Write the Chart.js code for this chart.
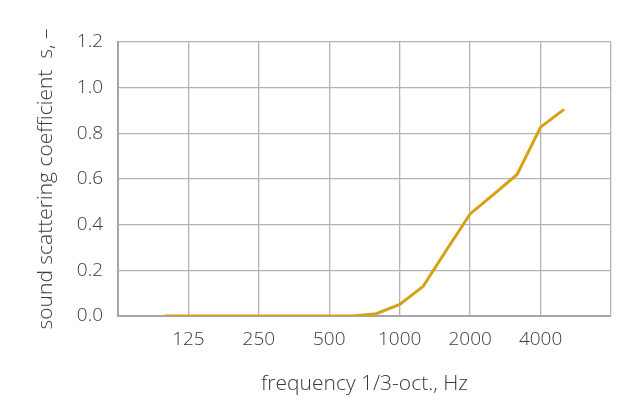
<!DOCTYPE html>
<html>
<head>
<meta charset="utf-8">
<script src="https://cdn.jsdelivr.net/npm/chart.js@4/dist/chart.umd.min.js"></script>
<style>
  html, body { margin: 0; padding: 0; background: #ffffff; }
  #wrap { width: 642px; height: 401px; }
</style>
</head>
<body>
<div id="wrap"><canvas id="c" width="642" height="401"></canvas></div>
<script>
// 1/3-octave band centre frequencies (Hz) spanning the axis
const bands = ['63','80','100','125','160','200','250','315','400','500','630','800','1000','1250','1600','2000','2500','3150','4000','5000','6300','8000'];
// bands that carry a tick label
const shownLabels = ['125','250','500','1000','2000','4000'];
// bands that carry a vertical grid line
const gridBands = ['63','125','250','500','1000','2000','4000','8000'];
// sound scattering coefficient s per band (null = not measured)
const scattering = [null, null, 0.0, 0.0, 0.0, 0.0, 0.0, 0.0, 0.0, 0.0, 0.0, 0.01, 0.051, 0.13, 0.29, 0.447, 0.533, 0.62, 0.827, 0.905, null, null];
const yTicks = [0, 0.2, 0.4, 0.6, 0.8, 1.0, 1.2];

const FONT = "'Open Sans', 'Lato', sans-serif";
const gridColor = '#b3b3b3';
const axisColor = '#a6a6a6';

new Chart(document.getElementById('c'), {
  type: 'line',
  data: {
    labels: bands,
    datasets: [{
      data: scattering,
      borderColor: '#d5a216',
      borderWidth: 3,
      pointRadius: 0,
      tension: 0,
      spanGaps: false
    }]
  },
  options: {
    responsive: false,
    animation: false,
    devicePixelRatio: 1,
    layout: { padding: { top: 42, right: 31, left: 0, bottom: 0 } },
    plugins: { legend: { display: false }, tooltip: { enabled: false } },
    scales: {
      x: {
        type: 'category',
        offset: false,
        afterFit: s => { s.height = 85; },
        border: { display: true, color: axisColor, width: 2 },
        grid: {
          color: ctx => gridBands.includes(bands[ctx.index]) ? gridColor : 'rgba(0,0,0,0)',
          lineWidth: 1.3,
          drawTicks: false
        },
        ticks: {
          autoSkip: false,
          maxRotation: 0,
          padding: 12,
          color: '#3a3a3a',
          font: { family: FONT, size: 19, weight: 300 },
          callback: function(v, i) { return shownLabels.includes(bands[i]) ? bands[i] : ''; }
        },
        title: {
          display: true,
          text: 'frequency 1/3-oct., Hz',
          color: '#3a3a3a',
          font: { family: FONT, size: 21, weight: 300 },
          padding: { top: 0, bottom: 4 }
        }
      },
      y: {
        min: 0,
        max: 1.2,
        afterFit: s => { s.width = 118; },
        afterBuildTicks: s => { s.ticks = yTicks.map(v => ({ value: v })); },
        border: { display: true, color: axisColor, width: 2 },
        grid: { color: gridColor, lineWidth: 1.3, drawTicks: false },
        ticks: {
          padding: 15,
          color: '#3a3a3a',
          font: { family: FONT, size: 19, weight: 300 },
          callback: v => Number(v).toFixed(1)
        },
        title: {
          display: true,
          text: 'sound scattering coefficient  s, –',
          color: '#3a3a3a',
          font: { family: FONT, size: 21, weight: 300 },
          padding: { top: 33, bottom: 0 }
        }
      }
    }
  }
});
</script>
</body>
</html>
